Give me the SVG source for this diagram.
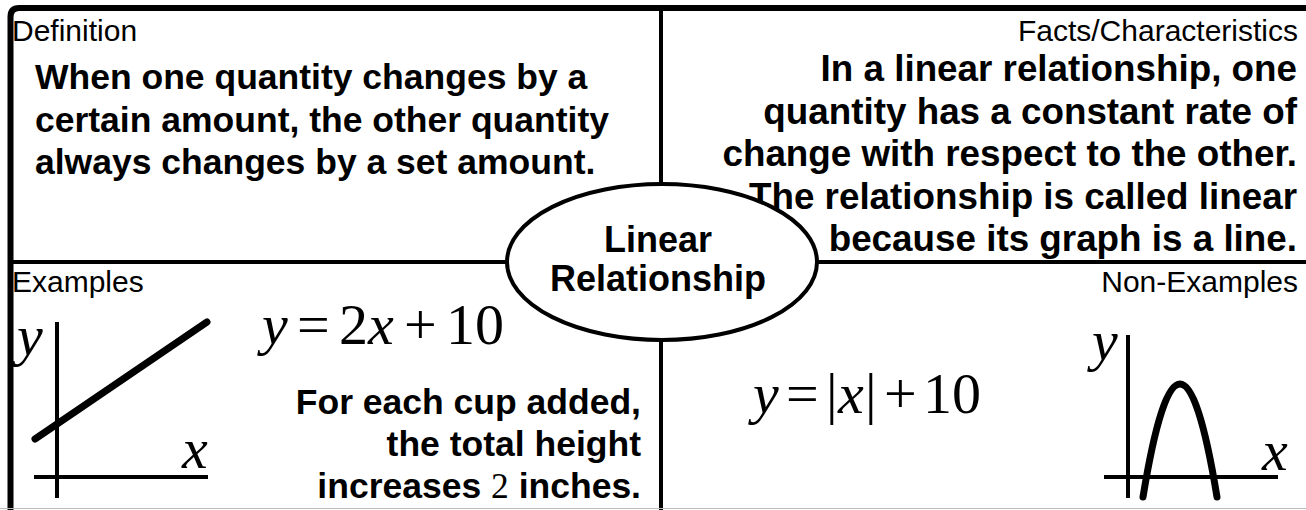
<svg xmlns="http://www.w3.org/2000/svg" width="1306" height="510" viewBox="0 0 1306 510">
  <style>
    .label { font-family: "Liberation Sans", Arial, sans-serif; font-size: 30px; fill: #000; }
    .body { font-family: "Liberation Sans", Arial, sans-serif; font-size: 35.5px; font-weight: bold; fill: #000; }
    .facts { font-size: 36.8px; }
    .center { font-family: "Liberation Sans", Arial, sans-serif; font-size: 36px; font-weight: bold; fill: #000; }
    .math { font-family: "Liberation Serif", "Times New Roman", serif; font-size: 58px; fill: #000; }
    .mi { font-style: italic; }
    .axis { stroke: #000; stroke-width: 4; fill: none; }
    .curve { stroke: #000; stroke-width: 7; fill: none; stroke-linecap: round; }
    .frame { stroke: #000; fill: none; }
  </style>
  <rect width="1306" height="510" fill="#fff"/>
  <g id="connectors">
    <path class="frame" d="M1306,8 L19,8 Q10.5,8 10.5,17 L10.5,510" stroke-width="6"/>
    <line class="frame" x1="661" y1="8" x2="661" y2="510" stroke-width="4"/>
    <line class="frame" x1="10" y1="262" x2="1306" y2="262" stroke-width="4"/>
    <line x1="0" y1="508.5" x2="1306" y2="508.5" stroke="#bbb" stroke-width="1"/>
  </g>
  <g id="definition">
    <text class="label" x="12" y="41">Definition</text>
    <text class="body" x="35" y="89">When one quantity changes by a</text>
    <text class="body" x="35" y="132">certain amount, the other quantity</text>
    <text class="body" x="35" y="174">always changes by a set amount.</text>
  </g>
  <g id="facts">
    <text class="label" x="1298" y="41" text-anchor="end">Facts/Characteristics</text>
    <text class="body facts" x="1297" y="81" text-anchor="end">In a linear relationship, one</text>
    <text class="body facts" x="1297" y="124" text-anchor="end">quantity has a constant rate of</text>
    <text class="body facts" x="1297" y="166" text-anchor="end">change with respect to the other.</text>
    <text class="body facts" x="1297" y="209" text-anchor="end">The relationship is called linear</text>
    <text class="body facts" x="1297" y="251" text-anchor="end">because its graph is a line.</text>
  </g>
  <g id="examples">
    <text class="label" x="12" y="292">Examples</text>
    <line class="axis" x1="57" y1="322" x2="57" y2="498"/>
    <line class="axis" x1="34" y1="477" x2="208" y2="477"/>
    <line class="curve" x1="35" y1="439" x2="207" y2="322"/>
    <text class="math mi" x="17" y="355" font-size="34">y</text>
    <text class="math mi" x="182" y="468" font-size="34">x</text>
    <text class="math" y="344"><tspan class="mi" x="262">y</tspan><tspan x="297">=</tspan><tspan x="339">2</tspan><tspan class="mi" x="368">x</tspan><tspan x="404">+</tspan><tspan x="446">1</tspan><tspan x="475">0</tspan></text>
    <text class="body" x="641" y="414" text-anchor="end">For each cup added,</text>
    <text class="body" x="641" y="456" text-anchor="end">the total height</text>
    <text class="body" x="641" y="498" text-anchor="end">increases <tspan font-family="Liberation Serif, serif" font-weight="normal">2</tspan> inches.</text>
  </g>
  <g id="non-examples">
    <text class="label" x="1298" y="292" text-anchor="end">Non-Examples</text>
    <text class="math" y="413"><tspan class="mi" x="753">y</tspan><tspan x="786">=</tspan><tspan x="826">|</tspan><tspan class="mi" x="838">x</tspan><tspan x="865">|</tspan><tspan x="884">+</tspan><tspan x="923">1</tspan><tspan x="952">0</tspan></text>
    <line class="axis" x1="1128" y1="335" x2="1128" y2="498"/>
    <line class="axis" x1="1104" y1="477" x2="1278" y2="477"/>
    <path class="curve" d="M1143,497 Q1180,271 1217,497"/>
    <text class="math mi" x="1092" y="360" font-size="34">y</text>
    <text class="math mi" x="1262" y="470" font-size="34">x</text>
  </g>
  <g id="center-node">
    <ellipse cx="662" cy="262" rx="155" ry="78" fill="#fff" stroke="#000" stroke-width="4"/>
    <text class="center" x="658" y="252" text-anchor="middle">Linear</text>
    <text class="center" x="658" y="291" text-anchor="middle">Relationship</text>
  </g>
</svg>
